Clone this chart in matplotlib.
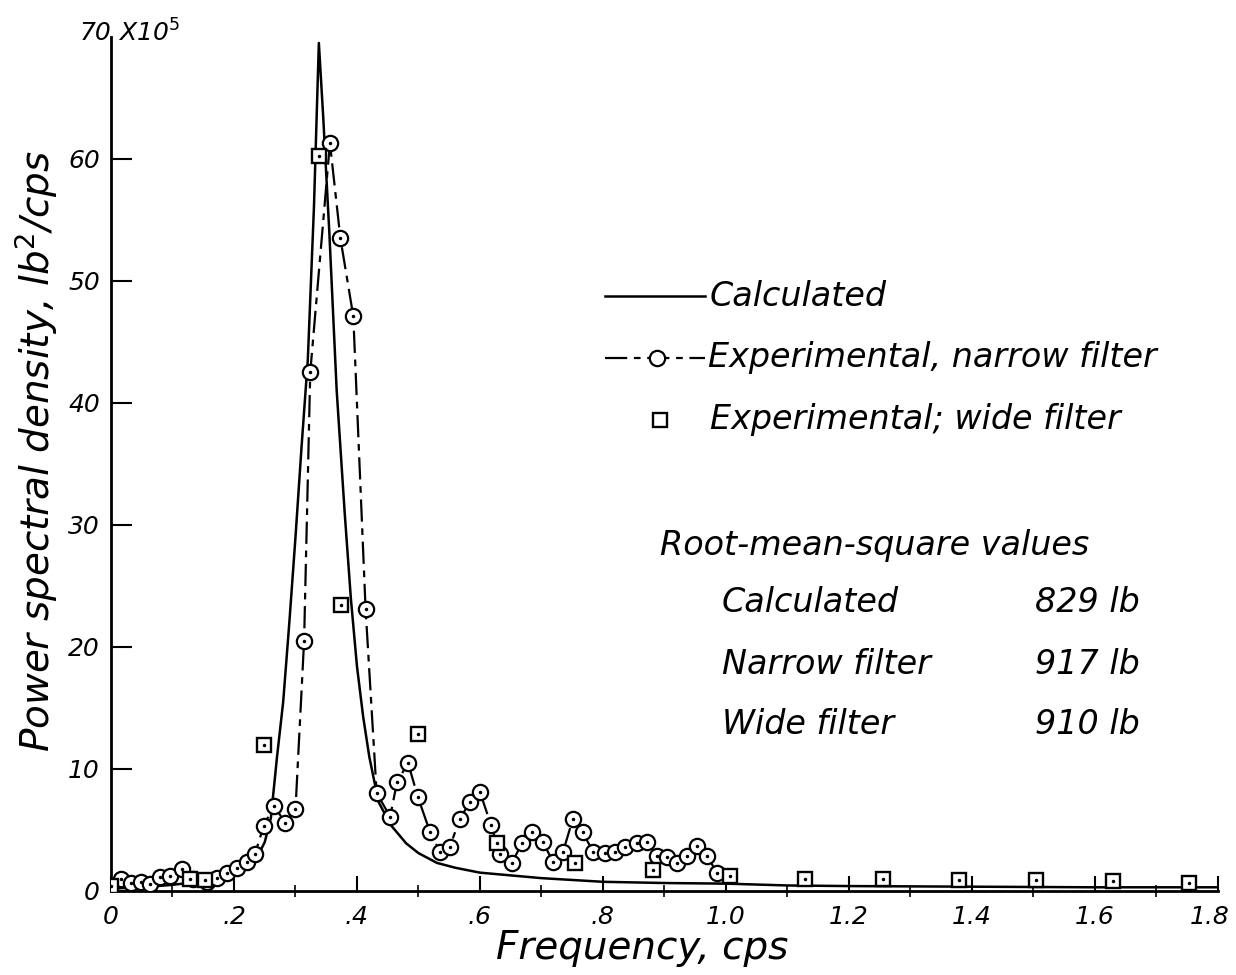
import matplotlib
matplotlib.use("Agg")
import matplotlib.pyplot as plt
from matplotlib.lines import Line2D
from matplotlib.transforms import ScaledTranslation

# ---- data (frequency in cps, PSD in units of 10^5 lb^2/cps) ----
calc_x = [0.0, 0.05, 0.10, 0.15, 0.20, 0.22, 0.24, 0.25, 0.26, 0.27, 0.28, 0.29,
          0.30, 0.31, 0.32, 0.33, 0.338, 0.345, 0.355, 0.367, 0.38, 0.39, 0.40,
          0.41, 0.42, 0.435, 0.455, 0.48, 0.50, 0.53, 0.56, 0.60, 0.70, 0.80,
          0.90, 1.00, 1.10, 1.20, 1.40, 1.60, 1.80]
calc_y = [0.2, 0.3, 0.5, 0.8, 1.5, 2.1, 3.0, 4.0, 6.0, 11.0, 15.5, 22.0,
          29.0, 36.5, 43.5, 56.0, 69.5, 63.5, 54.0, 41.0, 31.0, 24.0, 18.4,
          14.3, 11.0, 7.3, 5.4, 3.9, 3.1, 2.3, 1.9, 1.5, 1.05, 0.75,
          0.65, 0.6, 0.45, 0.4, 0.35, 0.3, 0.3]

narrow_x = [0.016, 0.032, 0.048, 0.064, 0.080, 0.096, 0.115, 0.133, 0.156, 0.172,
            0.189, 0.205, 0.221, 0.234, 0.248, 0.265, 0.283, 0.300, 0.314, 0.324,
            0.356, 0.373, 0.394, 0.414, 0.432, 0.454, 0.465, 0.483, 0.499, 0.519,
            0.535, 0.551, 0.567, 0.584, 0.600, 0.618, 0.633, 0.652, 0.668, 0.685,
            0.702, 0.719, 0.735, 0.751, 0.767, 0.784, 0.803, 0.820, 0.836, 0.855,
            0.872, 0.888, 0.904, 0.920, 0.937, 0.953, 0.969, 0.985]
narrow_y = [1.0, 0.65, 0.75, 0.6, 1.15, 1.2, 1.8, 1.0, 0.75, 1.05,
            1.5, 1.9, 2.4, 3.0, 5.3, 7.0, 5.6, 6.7, 20.5, 42.5,
            61.3, 53.5, 47.1, 23.1, 8.0, 6.1, 8.9, 10.5, 7.7, 4.8,
            3.2, 3.6, 5.9, 7.3, 8.1, 5.4, 3.0, 2.3, 3.9, 4.8,
            4.0, 2.4, 3.2, 5.9, 4.8, 3.2, 3.1, 3.2, 3.6, 3.9,
            4.0, 2.9, 2.8, 2.3, 2.9, 3.7, 2.9, 1.5]

wide_x = [0.0, 0.128, 0.153, 0.248, 0.339, 0.374, 0.500, 0.627, 0.754, 0.882,
          1.006, 1.128, 1.255, 1.379, 1.504, 1.629, 1.753]
wide_y = [0.4, 1.0, 0.9, 12.0, 60.2, 23.4, 12.9, 3.9, 2.3, 1.7,
          1.2, 0.95, 0.95, 0.9, 0.9, 0.8, 0.65]

x_ticks = [0.0, 0.2, 0.4, 0.6, 0.8, 1.0, 1.2, 1.4, 1.6, 1.8]
x_tick_labels = ["0", ".2", ".4", ".6", ".8", "1.0", "1.2", "1.4", "1.6", "1.8"]
y_ticks = [0, 10, 20, 30, 40, 50, 60, 70]
y_tick_labels = ["0", "10", "20", "30", "40", "50", "60", "70"]

rms_labels = ["Calculated", "Narrow filter", "Wide filter"]
rms_values = ["829 lb", "917 lb", "910 lb"]

FONT = dict(family="DejaVu Sans", style="italic")
TXT = 24
TICK = 18

fig = plt.figure(figsize=(12.36, 9.75), dpi=100)
ax = fig.add_axes([0.0898, 0.0862, 0.8956, 0.876])
ax.set_xlim(0, 1.8)
ax.set_ylim(0, 70)

ax.spines["top"].set_visible(False)
ax.spines["right"].set_visible(False)
for s in ("left", "bottom"):
    ax.spines[s].set_linewidth(2.0)

# calculated
ax.plot(calc_x, calc_y, color="black", lw=1.8, zorder=3)
# narrow filter
ax.plot(narrow_x, narrow_y, color="black", lw=1.6, ls=(0, (10, 3, 3, 3)),
        marker="o", ms=11, mfc="white", mec="black", mew=1.6, zorder=4)
ax.plot(narrow_x, narrow_y, ls="none", marker=".", ms=3, color="black", zorder=5)
# wide filter
ax.plot(wide_x, wide_y, ls="none", marker="s", ms=10, mfc="white", mec="black",
        mew=1.7, zorder=6)
ax.plot(wide_x, wide_y, ls="none", marker=".", ms=3, color="black", zorder=7)

# ticks
ax.set_xticks(x_ticks)
ax.set_xticklabels(x_tick_labels, fontsize=TICK, **FONT)
ax.set_xticks([0.1, 0.3, 0.5, 0.7, 0.9, 1.1, 1.3, 1.5, 1.7], minor=True)
ax.set_yticks(y_ticks[:-1])
ax.set_yticklabels(y_tick_labels[:-1], fontsize=TICK, **FONT)
ax.tick_params(axis="x", which="major", direction="in", length=11, width=1.5, pad=10)
ax.tick_params(axis="x", which="minor", direction="inout", length=9, width=1.2)
ax.tick_params(axis="y", which="major", direction="in", length=15, width=1.5, pad=8)

# keep the last x tick label inside the canvas
last = ax.get_xticklabels()[-1]
last.set_transform(last.get_transform() + ScaledTranslation(-0.08, 0, fig.dpi_scale_trans))

ax.text(0.0, 70.3, y_tick_labels[-1], ha="right", va="center", fontsize=TICK, **FONT)
ax.text(0.012, 70.3, r"X10$^5$", ha="left", va="center", fontsize=TICK, **FONT)

ax.set_xlabel("Frequency, cps", fontsize=28, **FONT)
ax.xaxis.set_label_coords(0.48, -0.045)
ax.set_ylabel("Power spectral density, lb$^2$/cps", fontsize=28, **FONT)
ax.yaxis.set_label_coords(-0.046, 0.515)

# legend drawn manually in figure pixels
def fx(px):
    return px / 1236.0

def fy(py):
    return 1.0 - py / 975.0

fig.add_artist(Line2D([fx(605), fx(705)], [fy(296), fy(296)], color="black", lw=1.8))
fig.text(fx(710), fy(296), "Calculated", fontsize=TXT, va="center", ha="left", **FONT)

fig.add_artist(Line2D([fx(605), fx(705)], [fy(358), fy(358)], color="black", lw=1.6,
                      ls=(0, (10, 3, 3, 3))))
fig.add_artist(Line2D([fx(657)], [fy(358)], marker="o", ms=11, mfc="white",
                      mec="black", mew=1.6, ls="none"))
fig.text(fx(708), fy(358), "Experimental, narrow filter", fontsize=TXT, va="center",
         ha="left", **FONT)

fig.add_artist(Line2D([fx(660)], [fy(420)], marker="s", ms=10, mfc="white",
                      mec="black", mew=1.7, ls="none"))
fig.text(fx(710), fy(420), "Experimental; wide filter", fontsize=TXT, va="center",
         ha="left", **FONT)

fig.text(fx(660), fy(545), "Root-mean-square values", fontsize=TXT, va="center",
         ha="left", **FONT)
for i, (lab, val) in enumerate(zip(rms_labels, rms_values)):
    yy = fy(603 + i * 61)
    fig.text(fx(722), yy, lab, fontsize=TXT, va="center", ha="left", **FONT)
    fig.text(fx(1140), yy, val, fontsize=TXT, va="center", ha="right", **FONT)

fig.savefig("out.png", dpi=100)
